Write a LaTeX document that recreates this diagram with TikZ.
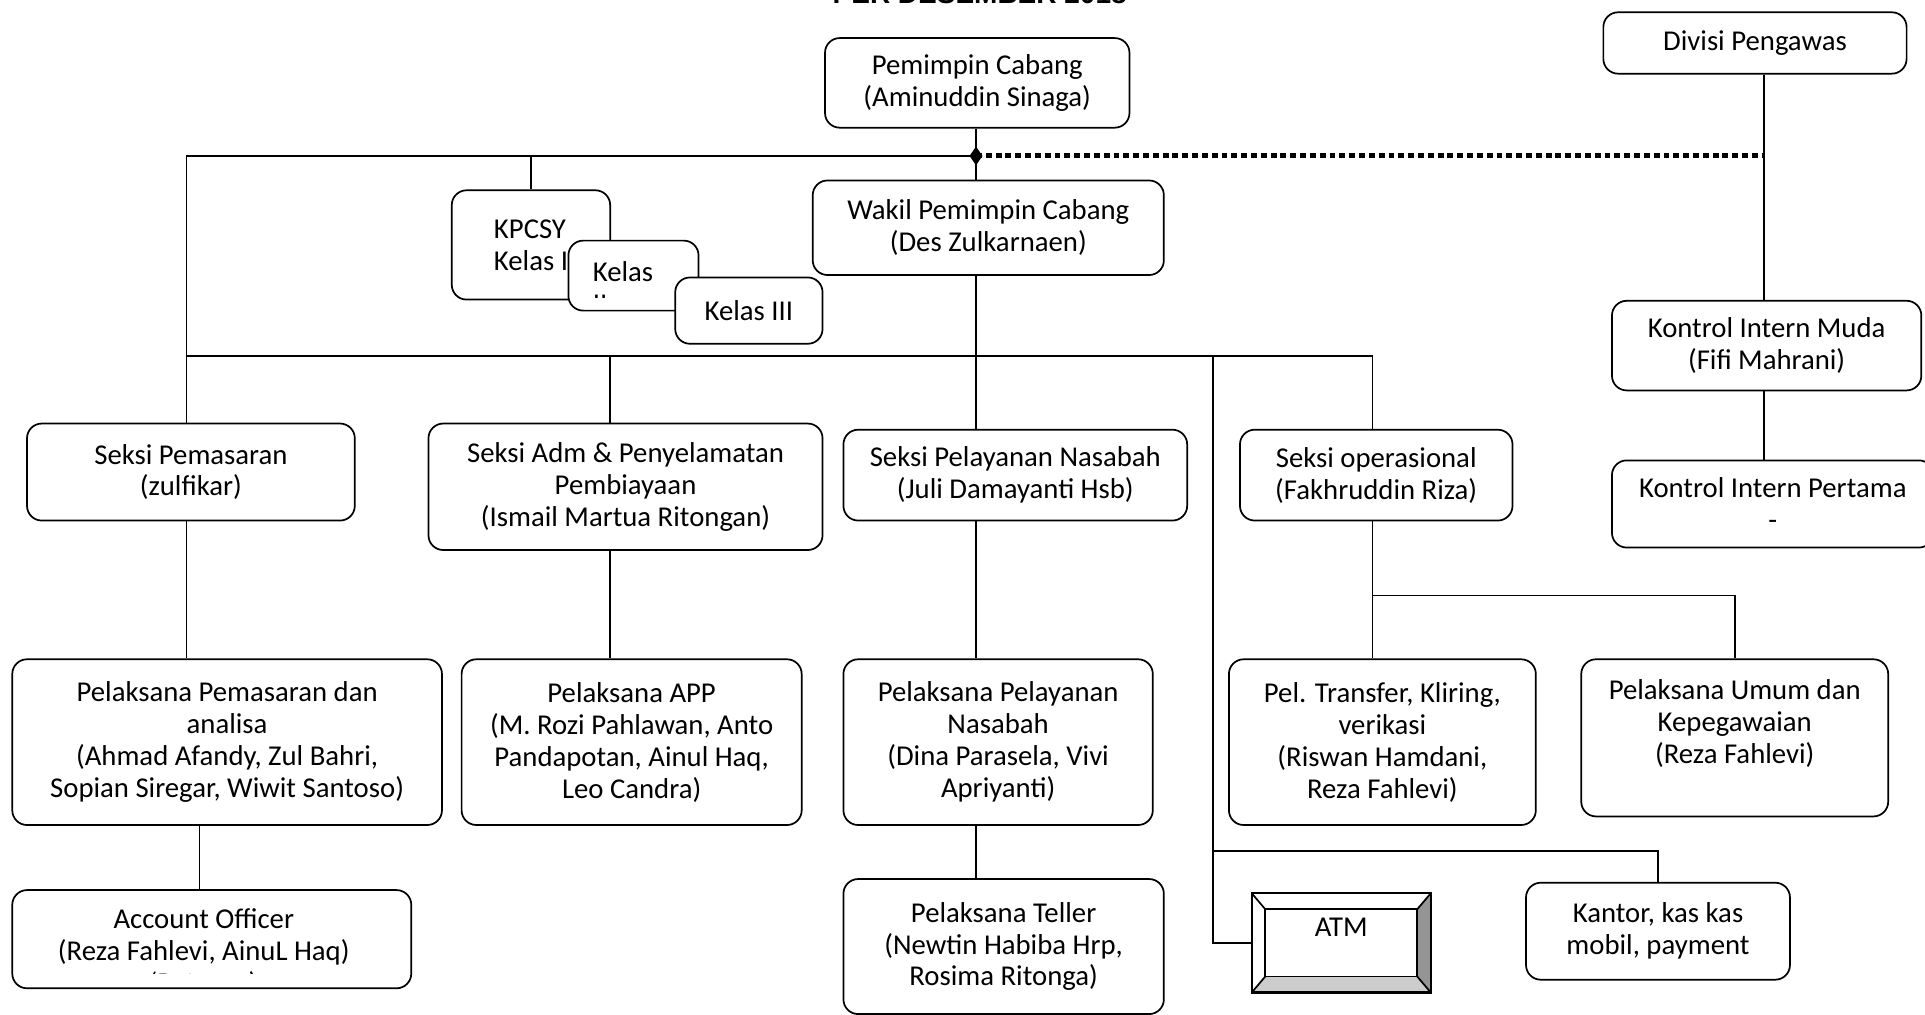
\documentclass[tikz,border=0pt]{standalone}
\usepackage{fontspec}
\setmainfont{Carlito}
\newfontfamily\titlefont{Liberation Sans}
\newcommand{\boxfont}{\fontsize{11.7}{13}\selectfont}
\usetikzlibrary{shapes.geometric}

\begin{document}
\begin{tikzpicture}[x=0.5pt,y=-0.5pt,
	unit/.style={draw, line width=0.7pt, rounded corners=6pt, fill=white, align=center, inner sep=0pt, font=\boxfont},
	cliptext/.style={align=center, inner sep=0pt, font=\boxfont},
	link/.style={line width=0.7pt},
	staffline/.style={line width=2pt, dash pattern=on 2.4pt off 1.6pt}]
	\useasboundingbox (0,0) rectangle (1568,826);
	\node [anchor=base, inner sep=0pt, font=\titlefont\bfseries\fontsize{11.4}{12}\selectfont] (title) at (798,3) {PER DESEMBER 2018};
	% top level
	\node [unit, minimum width=124pt, minimum height=36.5pt] (pc) at (796,67.5) {Pemimpin Cabang\\(Aminuddin Sinaga)};
	\node [unit, minimum width=123.5pt, minimum height=25pt] (dp) at (1429.5,35) {Divisi Pengawas};
	\node [unit, minimum width=143pt, minimum height=38.5pt] (wpc) at (805,185.5) {Wakil Pemimpin Cabang\\(Des Zulkarnaen)};
	\coordinate (j1) at (795,127);
	\coordinate (j2) at (795,290);
	\coordinate (tl) at (152,127);
	\coordinate (bl) at (152,290);
	\coordinate (br) at (1118,290);
	\coordinate (c2) at (497,290);
	\coordinate (c4) at (988,290);
	\coordinate (k1) at (988,693);
	\coordinate (d1) at (1437,127);
	\coordinate (s1) at (1118,485);
	% kpcsy group
	\node [unit, align=left, minimum width=64.5pt, minimum height=44.5pt] (kpcsy) at (432.5,199.5) {KPCSY\\Kelas I};
	\node [unit, minimum width=53pt, minimum height=28.5pt] (kls2) at (516,224.5) {};
	\begin{scope}
		\clip (kls2.north west) rectangle (kls2.east |- 0,242);
		\node [cliptext, align=left] (kls2txt) at (507.5,234) {Kelas\\II};
	\end{scope}
	\node [unit, minimum width=60pt, minimum height=27pt] (kls3) at (610,253) {Kelas III};
	% sections
	\node [unit, minimum width=133.5pt, minimum height=39.5pt] (sp) at (155.5,384.5) {Seksi Pemasaran\\(zulfikar)};
	\node [unit, minimum width=160.5pt, minimum height=51.5pt] (sap) at (509.5,396.5) {Seksi Adm \& Penyelamatan\\Pembiayaan\\(Ismail Martua Ritongan)};
	\node [unit, minimum width=140pt, minimum height=37pt] (spn) at (827,387) {Seksi Pelayanan Nasabah\\(Juli Damayanti Hsb)};
	\node [unit, minimum width=111pt, minimum height=37pt] (so) at (1121,387) {Seksi operasional\\(Fakhruddin Riza)};
	\node [unit, minimum width=126pt, minimum height=36.5pt] (kim) at (1439,281.5) {Kontrol Intern Muda\\(Fifi Mahrani)};
	\node [unit, minimum width=131pt, minimum height=35.5pt] (kip) at (1444,410.5) {Kontrol Intern Pertama\\-};
	% staff
	\node [unit, minimum width=175pt, minimum height=67.5pt] (ppa) at (185,604.5) {Pelaksana Pemasaran dan\\analisa\\(Ahmad Afandy, Zul Bahri,\\Sopian Siregar, Wiwit Santoso)};
	\node [unit, minimum width=138.5pt, minimum height=67.5pt] (papp) at (514.5,604.5) {Pelaksana APP\\(M. Rozi Pahlawan, Anto\\Pandapotan, Ainul Haq,\\Leo Candra)};
	\node [unit, minimum width=126pt, minimum height=67.5pt] (ppn) at (813,604.5) {Pelaksana Pelayanan\\Nasabah\\(Dina Parasela, Vivi\\Apriyanti)};
	\node [unit, minimum width=125pt, minimum height=67.5pt] (ptk) at (1126,604.5) {Pel. Transfer, Kliring,\\verikasi\\(Riswan Hamdani,\\Reza Fahlevi)};
	\node [unit, minimum width=125pt, minimum height=64pt] (puk) at (1413,601) {Pelaksana Umum dan\\Kepegawaian\\(Reza Fahlevi)\\\mbox{}};
	\node [unit, minimum width=162.5pt, minimum height=40pt] (ao) at (172.5,765) {};
	\begin{scope}
		\clip (ao.north west) rectangle (ao.east |- 0,793);
		\node [cliptext] (aotxt) at (166,776) {Account Officer\\(Reza Fahlevi, AinuL Haq)\\‘Petugas)};
	\end{scope}
	\node [unit, minimum width=130.5pt, minimum height=55pt] (pt) at (817.5,771) {Pelaksana Teller\\(Newtin Habiba Hrp,\\Rosima Ritonga)};
	\node [unit, minimum width=107.5pt, minimum height=39.5pt] (kantor) at (1350.5,758.5) {Kantor, kas kas\\mobil, payment};
	% atm with bevel
	\node [align=center, inner sep=0pt, font=\boxfont, minimum width=72.5pt, minimum height=40pt] (atm) at (1092.5,768) {ATM\\\mbox{}};
	\coordinate (inw) at ([xshift=5.5pt,yshift=-6.5pt]atm.north west);
	\coordinate (ine) at ([xshift=-5.5pt,yshift=-6.5pt]atm.north east);
	\coordinate (isw) at ([xshift=5.5pt,yshift=6.5pt]atm.south west);
	\coordinate (ise) at ([xshift=-5.5pt,yshift=6.5pt]atm.south east);
	\fill [black!42] (atm.north east) -- (atm.south east) -- (ise) -- (ine) -- cycle;
	\fill [black!20] (atm.south west) -- (atm.south east) -- (ise) -- (isw) -- cycle;
	\draw [line width=0.9pt] (atm.north west) rectangle (atm.south east);
	\draw [link] (inw) rectangle (ise);
	\draw [link] (atm.north west) -- (inw) (atm.north east) -- (ine) (atm.south west) -- (isw) (atm.south east) -- (ise);
	% connectors
	\draw [link] (pc.south -| j1) -- (wpc.north -| j1);
	\draw [link] (j1) -- (tl) -- (sp.north -| tl);
	\draw [link] (tl -| kpcsy.north) -- (kpcsy.north);
	\draw [staffline] (j1) -- (d1);
	\node [diamond, fill, aspect=0.7, inner sep=1.6pt] (knot) at (j1) {};
	\draw [link] (dp.south -| d1) -- (kim.north -| d1);
	\draw [link] (kim.south -| d1) -- (kip.north -| d1);
	\draw [link] (wpc.south -| j2) -- (spn.north -| j2);
	\draw [link] (bl) -- (br) -- (so.north -| br);
	\draw [link] (c2) -- (sap.north -| c2);
	\draw [link] (c4) |- (atm.west);
	\draw [link] (k1) -| (kantor.north);
	\draw [link] (sp.south -| tl) -- (ppa.north -| tl);
	\draw [link] ([xshift=-5pt]ao.north |- ppa.south) -- ([xshift=-5pt]ao.north);
	\draw [link] (sap.south -| c2) -- (papp.north -| c2);
	\draw [link] (spn.south -| j2) -- (ppn.north -| j2);
	\draw [link] (ppn.south -| j2) -- (pt.north -| j2);
	\draw [link] (so.south -| br) -- (ptk.north -| br);
	\draw [link] (s1) -| (puk.north);
\end{tikzpicture}
\end{document}
